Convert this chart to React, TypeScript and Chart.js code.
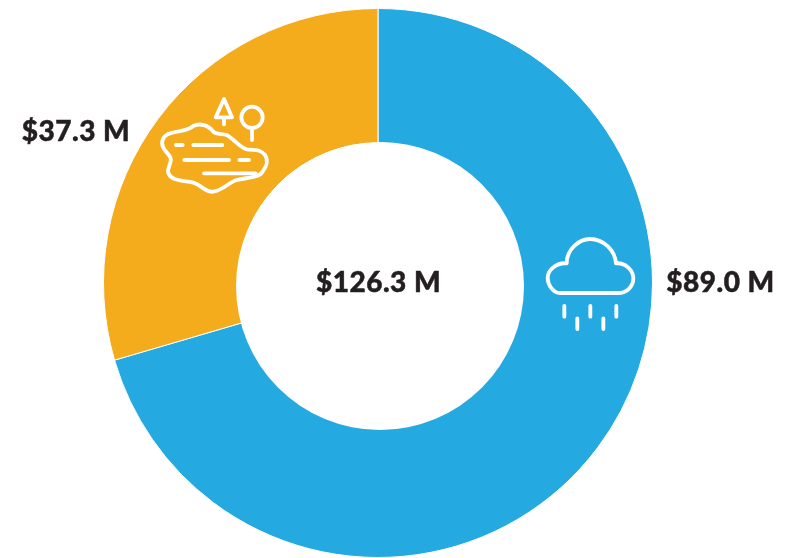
import React, { useEffect, useRef } from "react";
import { Chart, registerables } from "chart.js";

Chart.register(...registerables);

const categories = ["Rain", "Lake"];
const seriesValues = [89.0, 37.3];
const sliceColors = ["#25a9e1", "#f4ab1c"];
const sliceLabels = ["$89.0 M", "$37.3 M"];
const totalLabel = "$126.3 M";

const LAKE_OUTLINE =
  "M60 130C90 120 110 125 130 108C150 98 175 105 190 125C200 135 215 130 230 135C250 145 265 170 290 178C310 182 330 175 345 195C355 210 350 230 338 245C325 265 290 262 260 270C235 278 220 300 190 305C165 308 155 285 130 278C100 270 65 275 55 250C50 230 70 215 60 200C50 185 30 170 38 150C42 138 50 133 60 130Z" +
  "M78 165H98M130 165H217M103 210H237M268 210H297M162 250H317" +
  "M222 27L197 82H246ZM222 82V103" +
  "M338 82A32 32 0 1 1 274 82A32 32 0 1 1 338 82ZM306 114V150";
const CLOUD_OUTLINE =
  "M95 115C95 70 135 42 165 42C205 42 240 75 243 115C270 112 295 135 295 160C295 185 275 204 250 204L75 204C55 204 38 180 38 158C38 135 65 112 95 115Z" +
  "M88 243V275M127 280V312M166 243V275M205 280V312M244 243V275";

const overlay = {
  id: "overlay",
  afterDatasetsDraw(chart: any) {
    const { ctx } = chart;
    ctx.save();
    ctx.fillStyle = "#ffffff";
    ctx.beginPath();
    ctx.arc(380, 286, 144, 0, Math.PI * 2);
    ctx.fill();
    ctx.restore();
  },
  afterDraw(chart: any) {
    const { ctx } = chart;
    ctx.save();
    ctx.fillStyle = "#231f20";
    ctx.strokeStyle = "#231f20";
    ctx.lineWidth = 0.5;
    ctx.font = '900 28px "Lato"';
    (ctx as any).letterSpacing = "0.5px";
    ctx.textBaseline = "alphabetic";
    ctx.textAlign = "center";
    const put = (t: string, x: number, y: number) => {
      ctx.fillText(t, x, y);
      ctx.strokeText(t, x, y);
    };
    put(totalLabel, 378.5, 292);
    put(sliceLabels[0], 720.5, 292);
    put(sliceLabels[1], 76, 141);
    ctx.restore();

    const drawIcon = (d: string, x: number, y: number) => {
      ctx.save();
      ctx.translate(x, y);
      ctx.scale(1 / 3, 1 / 3);
      ctx.strokeStyle = "#ffffff";
      ctx.lineWidth = 11.5;
      ctx.lineCap = "round";
      ctx.lineJoin = "round";
      ctx.stroke(new Path2D(d));
      ctx.restore();
    };
    drawIcon(LAKE_OUTLINE, 150, 90);
    drawIcon(CLOUD_OUTLINE, 535, 225);
  },
};

export default function App() {
  const ref = useRef<HTMLCanvasElement>(null);
  useEffect(() => {
    const chart = new Chart(ref.current!, {
      type: "doughnut",
      data: {
        labels: categories,
        datasets: [
          {
            data: seriesValues,
            backgroundColor: sliceColors,
            borderColor: "#ffffff",
            borderWidth: 1,
          },
        ],
      },
      options: {
        responsive: false,
        animation: false,
        cutout: "51%",
        layout: { padding: { left: 0, right: 36, top: 8, bottom: -1 } },
        plugins: { legend: { display: false }, tooltip: { enabled: false } },
      },
      plugins: [overlay],
    });
    return () => chart.destroy();
  }, []);
  return (
    <div style={{ position: "fixed", left: 0, top: 0, width: 792, height: 558, background: "#fff" }}>
      <canvas ref={ref} width={792} height={558} style={{ display: "block" }} />
    </div>
  );
}
